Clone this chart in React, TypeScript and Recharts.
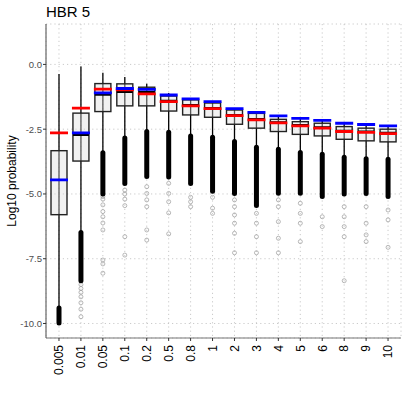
import { ComposedChart, Bar, XAxis, YAxis, CartesianGrid } from 'recharts';

const categories = ['0.005', '0.01', '0.05', '0.1', '0.2', '0.5', '0.8', '1', '2', '3', '4', '5', '6', '8', '9', '10'];

// box stats (log10 probability)
const whiskerHigh = [-0.37, -0.08, -0.32, -0.49, -0.75, -1.1, -1.3, -1.42, -1.68, -1.82, -1.96, -2.05, -2.13, -2.24, -2.29, -2.34];
const q3 = [-3.33, -1.88, -0.74, -0.75, -0.88, -1.22, -1.37, -1.49, -1.76, -1.89, -2.12, -2.21, -2.27, -2.4, -2.46, -2.5];
const median = [-4.46, -2.72, -1.17, -1.06, -1.06, -1.4, -1.57, -1.68, -1.95, -2.11, -2.23, -2.34, -2.43, -2.56, -2.59, -2.64];
const q1 = [-5.8, -3.73, -1.82, -1.6, -1.6, -1.8, -1.95, -2.04, -2.31, -2.46, -2.59, -2.7, -2.76, -2.89, -2.95, -2.99];
const whiskerLow = [-9.4, -6.49, -3.41, -2.84, -2.59, -2.62, -2.76, -2.81, -2.98, -3.2, -3.27, -3.4, -3.47, -3.58, -3.64, -3.66];
// lowest end of the packed (solid) run of outliers
const denseLow = [-9.98, -8.35, -5.0, -4.6, -4.33, -4.35, -4.6, -4.9, -4.98, -5.45, -4.97, -4.97, -5.1, -5.0, -4.98, -5.1];
const redMark = [-2.64, -1.69, -0.95, -0.98, -1.14, -1.44, -1.6, -1.71, -1.98, -2.14, -2.26, -2.37, -2.46, -2.59, -2.62, -2.67];
const blueMark = [-4.46, -2.64, -1.1, -0.93, -0.96, -1.18, -1.33, -1.44, -1.71, -1.85, -1.99, -2.08, -2.16, -2.27, -2.32, -2.37];
// sparse outliers below the packed run
const outliers: number[][] = [
  [],
  [-8.5, -8.65, -8.8, -8.97, -9.2, -9.45, -9.74],
  [-5.1, -5.2, -5.42, -5.68, -5.88, -6.12, -6.39, -7.55, -7.7, -8.06],
  [-4.85, -5.0, -5.2, -5.45, -6.65, -7.36],
  [-4.72, -4.98, -5.23, -5.49, -6.39, -6.78],
  [-4.59, -4.98, -5.3, -5.73, -6.54],
  [-5.13, -5.3, -5.49],
  [-5.13, -5.55, -5.75],
  [-5.23, -5.49, -5.81, -6.13, -6.52, -7.27],
  [-5.75, -6.13, -6.65, -7.27],
  [-5.23, -5.49, -6.07, -6.71, -7.27],
  [-5.36, -5.75, -6.13, -6.84],
  [-5.88, -6.26],
  [-5.49, -5.88, -6.26, -6.65, -8.35],
  [-5.49, -6.13, -6.58, -6.84],
  [-5.62, -6.0, -7.06],
];
const yTicks = [-10, -7.5, -5, -2.5, 0];

const data = categories.map((name, i) => ({
  name,
  whHi: whiskerHigh[i],
  q3: q3[i],
  med: median[i],
  q1: q1[i],
  whLo: whiskerLow[i],
  dense: denseLow[i],
  red: redMark[i],
  blue: blueMark[i],
  out: outliers[i],
}));

const FONT = '"Liberation Sans", Arial, Helvetica, sans-serif';

function BoxShape(props: any) {
  const { x, y, width, height, payload } = props;
  const top = Math.min(y, y + height);
  const h = Math.abs(height);
  const hi = payload.whHi;
  const lo = payload.dense;
  const py = (v: number) => top + ((hi - v) / (hi - lo)) * h;
  const cx = x + width / 2;
  const markW = width + 2;
  return (
    <g>
      {payload.out.map((v: number, k: number) => (
        <circle key={k} cx={cx} cy={py(v)} r={2} fill="none" stroke="#9a9a9a" strokeWidth={0.7} />
      ))}
      <line x1={cx} x2={cx} y1={py(payload.whLo)} y2={py(payload.dense)} stroke="#000" strokeWidth={5} strokeLinecap="round" />
      <line x1={cx} x2={cx} y1={py(payload.whHi)} y2={py(payload.whLo)} stroke="#000" strokeWidth={1.3} />
      <rect x={x} y={py(payload.q3)} width={width} height={py(payload.q1) - py(payload.q3)} fill="#dcdcdc" fillOpacity={0.4} stroke="#222" strokeWidth={1.4} />
      <line x1={x} x2={x + width} y1={py(payload.med)} y2={py(payload.med)} stroke="#000" strokeWidth={2} />
      <line x1={cx - markW / 2} x2={cx + markW / 2} y1={py(payload.red)} y2={py(payload.red)} stroke="#ff0000" strokeWidth={2.8} />
      <line x1={cx - markW / 2} x2={cx + markW / 2} y1={py(payload.blue)} y2={py(payload.blue)} stroke="#0000ff" strokeWidth={2.8} />
    </g>
  );
}

function XTick(props: any) {
  const { x, y, payload } = props;
  return (
    <g transform={`translate(${x},${y + 2})`}>
      <text transform="rotate(-90)" textAnchor="end" dy="0.36em" fontSize={12} fill="#000" fontFamily={FONT}>
        {payload.value}
      </text>
    </g>
  );
}

export default function App() {
  return (
    <div style={{ position: 'absolute', left: 0, top: 0, width: 407, height: 395, background: '#fff' }}>
      <ComposedChart width={407} height={395} data={data} margin={{ top: 24, right: 6, bottom: 0, left: 0 }}>
        <CartesianGrid stroke="#bdbdbd" strokeDasharray="1.2 3" strokeWidth={0.8} />
        <XAxis
          dataKey="name"
          interval={0}
          height={57}
          padding={{ left: 2, right: 2 }}
          tick={<XTick />}
          tickSize={3}
          tickLine={{ stroke: '#333' }}
          axisLine={{ stroke: '#777', strokeWidth: 1.2 }}
        />
        <YAxis
          type="number"
          domain={[-10.56, 1.56]}
          allowDataOverflow
          ticks={yTicks}
          width={46}
          tickSize={3}
          tickMargin={1}
          tickFormatter={(v: number) => v.toFixed(1)}
          tick={{ fontSize: 9.5, fill: '#4d4d4d', fontFamily: FONT }}
          tickLine={{ stroke: '#333' }}
          axisLine={{ stroke: '#666', strokeWidth: 1.2 }}
        />
        <Bar
          dataKey={(d: any) => [d.dense, d.whHi]}
          barSize={16}
          shape={<BoxShape />}
          isAnimationActive={false}
        />
      </ComposedChart>
      <svg width={407} height={395} style={{ position: 'absolute', left: 0, top: 0, pointerEvents: 'none' }}>
        <text x={46} y={17} fontSize={15} fill="#000" fontFamily={FONT}>HBR 5</text>
        <text transform="translate(15.5,181) rotate(-90)" textAnchor="middle" fontSize={12} fill="#000" fontFamily={FONT}>
          Log10 probability
        </text>
      </svg>
    </div>
  );
}
